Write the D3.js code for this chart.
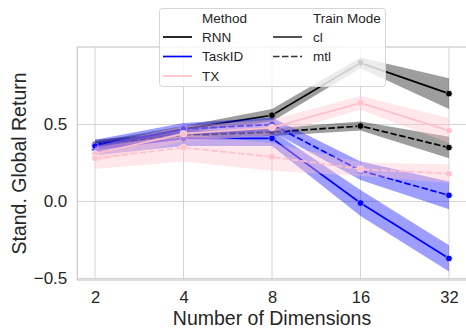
<!DOCTYPE html>
<html>
<head>
<meta charset="utf-8">
<script src="https://cdn.jsdelivr.net/npm/d3@7"></script>
<style>
  html, body { margin: 0; padding: 0; background: #fff; }
  svg { display: block; font-family: "Liberation Sans", Arial, sans-serif; }
</style>
</head>
<body>
<div id="graph"></div>
<script>
// x categories (log2 axis)
var dims = [2, 4, 8, 16, 32];
var methods = ['RNN', 'TaskID', 'TX'];
var modes = ['cl', 'mtl'];
var yTicks = [-0.5, 0.0, 0.5];

// means per method / train mode
var rnnCl = [0.36, 0.47, 0.56, 0.90, 0.70];
var rnnMtl = [0.37, 0.43, 0.45, 0.49, 0.35];
var taskCl = [0.34, 0.41, 0.41, -0.01, -0.37];
var taskMtl = [0.36, 0.47, 0.50, 0.20, 0.04];
var txCl = [0.31, 0.44, 0.48, 0.64, 0.46];
var txMtl = [0.28, 0.35, 0.29, 0.21, 0.18];

// confidence band half widths
var rnnClErr = [0.03, 0.02, 0.04, 0.035, 0.10];
var rnnMtlErr = [0.03, 0.02, 0.025, 0.03, 0.07];
var taskClErr = [0.04, 0.05, 0.05, 0.085, 0.085];
var taskMtlErr = [0.04, 0.04, 0.045, 0.06, 0.09];
var txClErr = [0.05, 0.05, 0.05, 0.045, 0.08];
var txMtlErr = [0.07, 0.09, 0.09, 0.045, 0.06];

var colors = { RNN: '#000000', TaskID: '#0000ff', TX: '#ffc0cb' };

var series = [
  { method: 'RNN', mode: 'cl', mean: rnnCl, err: rnnClErr },
  { method: 'RNN', mode: 'mtl', mean: rnnMtl, err: rnnMtlErr },
  { method: 'TaskID', mode: 'cl', mean: taskCl, err: taskClErr },
  { method: 'TaskID', mode: 'mtl', mean: taskMtl, err: taskMtlErr },
  { method: 'TX', mode: 'cl', mean: txCl, err: txClErr },
  { method: 'TX', mode: 'mtl', mean: txMtl, err: txMtlErr }
];

var width = 466, height = 329;
var plotL = 77.3, plotR = 466.7, plotT = 47, plotB = 280;

var svg = d3.select('#graph').append('svg')
  .attr('width', width)
  .attr('height', height);

var x = d3.scaleLog().base(2)
  .domain([Math.pow(2, 0.8), Math.pow(2, 5.2)])
  .range([plotL, plotR]);

var y = d3.scaleLinear()
  .domain([-0.51, 1.003])
  .range([plotB, plotT]);

// grid
svg.append('g').selectAll('line')
  .data(dims).enter().append('line')
  .attr('x1', d => x(d)).attr('x2', d => x(d))
  .attr('y1', plotT).attr('y2', plotB)
  .attr('stroke', '#d4d4d4').attr('stroke-width', 1);

svg.append('g').selectAll('line')
  .data(yTicks).enter().append('line')
  .attr('x1', plotL).attr('x2', plotR)
  .attr('y1', d => y(d)).attr('y2', d => y(d))
  .attr('stroke', '#d4d4d4').attr('stroke-width', 1);

// frame
svg.append('rect')
  .attr('x', plotL).attr('y', plotT)
  .attr('width', plotR - plotL).attr('height', plotB - plotT)
  .attr('fill', 'none').attr('stroke', '#cccccc').attr('stroke-width', 1.25);

// tick labels via axes, no tick lines
var xAxis = svg.append('g')
  .attr('transform', 'translate(0,' + plotB + ')')
  .call(d3.axisBottom(x).tickValues(dims).tickFormat(d3.format('d')).tickSize(0).tickPadding(11));
xAxis.select('.domain').remove();
xAxis.selectAll('text').attr('font-size', '16.5px').attr('fill', '#262626')
  .attr('font-family', '"Liberation Sans", Arial, sans-serif');

var yAxis = svg.append('g')
  .attr('transform', 'translate(' + plotL + ',0)')
  .call(d3.axisLeft(y).tickValues(yTicks).tickFormat(d3.format('.1f')).tickSize(0).tickPadding(10));
yAxis.select('.domain').remove();
yAxis.selectAll('text').attr('font-size', '17px').attr('fill', '#262626')
  .attr('font-family', '"Liberation Sans", Arial, sans-serif');

// axis titles
svg.append('text')
  .attr('x', (plotL + plotR) / 2).attr('y', 325)
  .attr('text-anchor', 'middle')
  .attr('font-size', '19.5px').attr('fill', '#262626')
  .text('Number of Dimensions');

svg.append('text')
  .attr('transform', 'translate(26,' + ((plotT + plotB) / 2) + ') rotate(-90)')
  .attr('text-anchor', 'middle')
  .attr('font-size', '19.5px').attr('fill', '#262626')
  .text('Stand. Global Return');

var line = d3.line()
  .x(d => x(d.dim))
  .y(d => y(d.v));

var area = d3.area()
  .x(d => x(d.dim))
  .y0(d => y(d.v - d.e))
  .y1(d => y(d.v + d.e));

var plot = svg.append('g');

series.forEach(function(s) {
  var pts = dims.map((d, i) => ({ dim: d, v: s.mean[i], e: s.err[i] }));
  var c = colors[s.method];

  plot.append('path')
    .datum(pts)
    .attr('d', line)
    .attr('fill', 'none')
    .attr('stroke', c)
    .attr('stroke-width', 1.7)
    .attr('stroke-dasharray', s.mode == 'mtl' ? '6.5,2.5' : null);

  plot.selectAll(null)
    .data(pts).enter().append('circle')
    .attr('cx', d => x(d.dim))
    .attr('cy', d => y(d.v))
    .attr('r', 3.3)
    .attr('fill', c)
    .attr('stroke', '#fff')
    .attr('stroke-width', 0.8);

  plot.append('path')
    .datum(pts)
    .attr('d', area)
    .attr('fill', c)
    .attr('fill-opacity', 0.38)
    .attr('stroke', 'none');
});

// legend
var lg = svg.append('g');
lg.append('rect')
  .attr('x', 159.5).attr('y', 8.5)
  .attr('width', 226).attr('height', 78)
  .attr('rx', 3)
  .attr('fill', '#fff').attr('fill-opacity', 0.8)
  .attr('stroke', '#d6d6d6').attr('stroke-width', 1);

var rowY = [18, 37, 56.5, 76];

var col1 = [{ label: 'Method', color: null, dash: null }]
  .concat(methods.map(m => ({ label: m, color: colors[m], dash: null })));
var col2 = [{ label: 'Train Mode', color: null, dash: null }]
  .concat(modes.map(m => ({ label: m, color: '#333333', dash: m == 'mtl' ? '6.5,2.5' : null })));

function drawCol(items, lx, tx) {
  items.forEach(function(it, i) {
    if (it.color) {
      lg.append('line')
        .attr('x1', lx).attr('x2', lx + 29)
        .attr('y1', rowY[i]).attr('y2', rowY[i])
        .attr('stroke', it.color).attr('stroke-width', 1.7)
        .attr('stroke-dasharray', it.dash);
    }
    lg.append('text')
      .attr('x', tx).attr('y', rowY[i])
      .attr('dy', '0.35em')
      .attr('font-size', '13.5px').attr('fill', '#262626')
      .text(it.label);
  });
}
drawCol(col1, 163, 202);
drawCol(col2, 273, 313);
</script>
</body>
</html>
